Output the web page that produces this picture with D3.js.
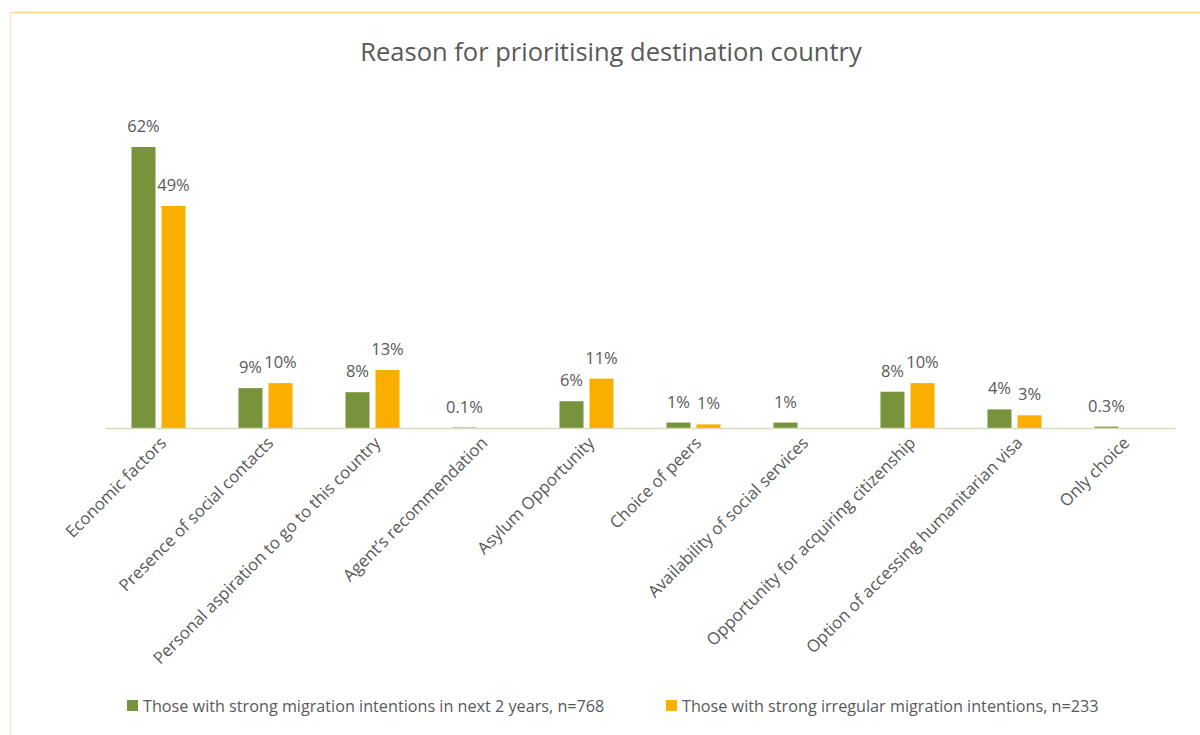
<!DOCTYPE html>
<meta charset="utf-8">
<style type="text/css">
    body { margin: 0; background: #fff; }
    svg text { font-family: "Open Sans", "Noto Sans", sans-serif; fill: #595959; }
    .title { font-size: 25.5px; }
    .value { font-size: 16.5px; }
    .tick text { font-size: 16.8px; }
    .legend text { font-size: 16.2px; }
</style>
<body>
<script src="https://cdn.jsdelivr.net/npm/d3@7"></script>
<script>
    // categories along the x axis
    var categories = [
        "Economic factors",
        "Presence of social contacts",
        "Personal aspiration to go to this country",
        "Agent\u2019s recommendation",
        "Asylum Opportunity",
        "Choice of peers",
        "Availability of social services",
        "Opportunity for acquiring citizenship",
        "Option of accessing humanitarian visa",
        "Only choice"
    ];

    var seriesNames = [
        "Those with strong migration intentions in next 2 years, n=768",
        "Those with strong irregular migration intentions, n=233"
    ];

    // percentages (null = no bar / no label)
    var strongMigration = [62, 8.8, 7.9, 0.1, 5.9, 1.2, 1.2, 8.0, 4.1, 0.3];
    var irregularMigration = [49, 9.9, 12.8, null, 10.9, 0.8, null, 9.9, 2.8, null];

    var colors = ["#77933c", "#f9ae00"];

    var width = 1200, height = 735;
    var margin = {top: 110, left: 105, right: 25, baseline: 428};

    var svg = d3.select("body").append("svg")
        .attr("width", width)
        .attr("height", height);

    // light orange frame (top and left edges visible)
    svg.append("line")
        .attr("x1", 10).attr("x2", width).attr("y1", 12.5).attr("y2", 12.5)
        .attr("stroke", "#ffd68a").attr("stroke-width", 1.5);
    svg.append("line")
        .attr("x1", 10.5).attr("x2", 10.5).attr("y1", 12).attr("y2", height)
        .attr("stroke", "#ffe9c6").attr("stroke-width", 1.5);

    svg.append("text")
        .attr("class", "title")
        .attr("x", 611)
        .attr("y", 61)
        .attr("text-anchor", "middle")
        .text("Reason for prioritising destination country");

    var x0 = d3.scaleBand()
        .domain(categories)
        .range([margin.left, width - margin.right])
        .paddingInner(0.495)
        .paddingOuter(0.2475);

    var x1 = d3.scaleBand()
        .domain([0, 1])
        .range([0, x0.bandwidth()])
        .paddingInner(0.2);

    var y = d3.scaleLinear()
        .domain([0, 62])
        .range([margin.baseline, 147]);

    var rows = categories.map(function(c, i) {
        return {cat: c, values: [strongMigration[i], irregularMigration[i]]};
    });

    function fmt(v) {
        return v < 0.5 ? d3.format(".1f")(v) + "%" : Math.round(v) + "%";
    }

    var groups = svg.selectAll(".group")
        .data(rows)
        .enter().append("g")
        .attr("class", "group")
        .attr("transform", function(d) { return "translate(" + x0(d.cat) + ",0)"; });

    var cells = groups.selectAll(".cell")
        .data(function(d) {
            return d.values.map(function(v, s) { return {s: s, v: v}; })
                .filter(function(e) { return e.v !== null; });
        })
        .enter();

    cells.append("rect")
        .attr("x", function(d) { return x1(d.s); })
        .attr("width", x1.bandwidth())
        .attr("y", function(d) { return y(d.v); })
        .attr("height", function(d) { return y(0) - y(d.v); })
        .attr("fill", function(d) { return colors[d.s]; });

    cells.append("text")
        .attr("class", "value")
        .attr("x", function(d) { return x1(d.s) + x1.bandwidth() / 2; })
        .attr("y", function(d) { return y(d.v) - 15; })
        .attr("text-anchor", "middle")
        .text(function(d) { return fmt(d.v); });

    // x axis
    var xAxis = svg.append("g")
        .attr("transform", "translate(0," + margin.baseline + ")")
        .call(d3.axisBottom(x0).tickSize(0).tickPadding(0));

    xAxis.select(".domain")
        .attr("stroke", "#d5ddbd")
        .attr("stroke-width", 1.5);

    xAxis.selectAll(".tick text")
        .attr("text-anchor", "end")
        .attr("dy", null)
        .attr("y", 0)
        .attr("transform", "translate(9,16) rotate(-45)");

    // legend
    var legendX = [127, 666];
    var legend = svg.selectAll(".legend")
        .data(seriesNames)
        .enter().append("g")
        .attr("class", "legend")
        .attr("transform", function(d, i) { return "translate(" + legendX[i] + ",700)"; });

    legend.append("rect")
        .attr("width", 11).attr("height", 11)
        .attr("fill", function(d, i) { return colors[i]; });

    legend.append("text")
        .attr("x", 16)
        .attr("y", 11.5)
        .text(function(d) { return d; });
</script>
</body>
